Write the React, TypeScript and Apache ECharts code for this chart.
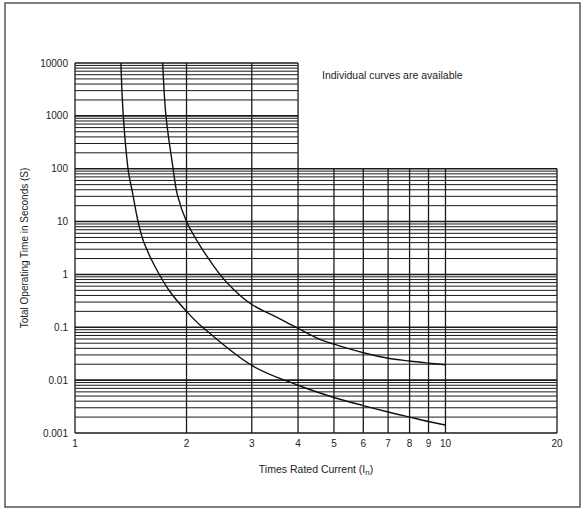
import React, { useEffect, useRef } from "react";
import * as echarts from "echarts";

// Axis ticks
const X_TICKS = [1, 2, 3, 4, 5, 6, 7, 8, 9, 10, 20];
const Y_DECADES = [0.001, 0.01, 0.1, 1, 10, 100, 1000, 10000];
const MINOR_MULT = [2, 3, 4, 5, 6, 7, 8, 9];
const X_FULL_LINES = [1, 2, 3, 4];
const X_LOWER_LINES = [5, 6, 7, 8, 9, 10, 20];
const X_MIN = 1;
const X_MAX = 20;
const X_STEP = 4; // upper box right edge
const Y_MIN = 0.001;
const Y_MAX = 10000;
const Y_STEP = 100; // lower box top edge

// Curves
const CURVE_A_X = [1.33, 1.35, 1.39, 1.43, 1.48, 1.535, 1.645, 1.805, 2.0, 2.21, 3.0, 4.0, 5.0, 6.0, 7.0, 8.0, 9.0, 10.0];
const CURVE_A_Y = [10000, 1000, 100, 35, 10, 4, 1.4, 0.47, 0.2, 0.1, 0.019, 0.008, 0.0047, 0.0033, 0.0025, 0.002, 0.00165, 0.00142];
const CURVE_B_X = [1.725, 1.76, 1.84, 1.89, 2.0, 2.17, 2.46, 2.68, 3.0, 3.5, 4.0, 4.58, 5.0, 6.0, 7.0, 8.0, 9.0, 10.0];
const CURVE_B_Y = [10000, 1000, 100, 32, 10, 3.6, 1.0, 0.52, 0.27, 0.155, 0.095, 0.059, 0.048, 0.033, 0.026, 0.023, 0.021, 0.0195];

const FONT = "'Liberation Sans', Arial, Helvetica, sans-serif";

function buildGridLines() {
  const lines: number[][] = [];
  // horizontal lines: [x1, y1, x2, y2, width]
  Y_DECADES.forEach((d, i) => {
    const right = d > Y_STEP ? X_STEP : X_MAX;
    lines.push([X_MIN, d, right, d, 1.6]);
    if (i < Y_DECADES.length - 1) {
      MINOR_MULT.forEach((m) => {
        const v = d * m;
        const r = v > Y_STEP ? X_STEP : X_MAX;
        lines.push([X_MIN, v, r, v, 1]);
      });
    }
  });
  X_FULL_LINES.forEach((x) => lines.push([x, Y_MIN, x, Y_MAX, 1.3]));
  X_LOWER_LINES.forEach((x) => lines.push([x, Y_MIN, x, Y_STEP, 1.3]));
  return lines;
}

export default function App() {
  const ref = useRef<HTMLDivElement>(null);
  useEffect(() => {
    if (!ref.current) return;
    const chart = echarts.init(ref.current, null, { renderer: "svg" });
    const fmt = (v: number) => String(Number(Number(v).toPrecision(2)));
    chart.setOption({
      animation: false,
      backgroundColor: "#fff",
      textStyle: { fontFamily: FONT },
      grid: { left: 75, right: 27, top: 63, bottom: 76 },
      xAxis: {
        type: "log",
        logBase: 10,
        min: X_MIN,
        max: X_MAX,
        name: "Times Rated Current (I{sub|n})",
        nameLocation: "middle",
        nameGap: 29,
        nameTextStyle: {
          color: "#222",
          fontSize: 10.5,
          fontFamily: FONT,
          rich: { sub: { fontSize: 8, padding: [6, 0, 0, 0], color: "#222", fontFamily: FONT } },
        },
        axisLine: { show: false },
        axisTick: { show: false },
        splitLine: { show: false },
        axisLabel: {
          customValues: X_TICKS,
          margin: 5,
          color: "#222",
          fontSize: 10,
          fontFamily: FONT,
          formatter: fmt,
        },
      },
      yAxis: {
        type: "log",
        logBase: 10,
        min: Y_MIN,
        max: Y_MAX,
        interval: 1,
        name: "Total Operating Time in Seconds (S)",
        nameLocation: "middle",
        nameGap: 41,
        nameTextStyle: { color: "#222", fontSize: 10, fontFamily: FONT },
        axisLine: { show: false },
        axisTick: { show: false },
        splitLine: { show: false },
        axisLabel: {
          margin: 7,
          color: "#222",
          fontSize: 10,
          fontFamily: FONT,
          formatter: fmt,
        },
      },
      graphic: [
        {
          type: "rect",
          shape: { x: 5, y: 3, width: 575, height: 504 },
          style: { fill: "none", stroke: "#555", lineWidth: 1.5 },
          silent: true,
        },
        {
          type: "text",
          x: 322,
          y: 75,
          style: {
            text: "Individual curves are available",
            fill: "#222",
            fontSize: 10.5,
            fontFamily: FONT,
            verticalAlign: "middle",
          },
        },
      ],
      series: [
        {
          type: "custom",
          coordinateSystem: "cartesian2d",
          silent: true,
          encode: { x: [0, 2], y: [1, 3] },
          data: buildGridLines(),
          renderItem: (params: any, api: any) => {
            const p1 = api.coord([api.value(0), api.value(1)]);
            const p2 = api.coord([api.value(2), api.value(3)]);
            return {
              type: "line",
              shape: { x1: p1[0], y1: p1[1], x2: p2[0], y2: p2[1] },
              style: { stroke: "#1a1a1a", lineWidth: api.value(4) },
            };
          },
          z: 1,
        },
        {
          type: "line",
          data: CURVE_A_X.map((x, i) => [x, CURVE_A_Y[i]]),
          smooth: 0.35,
          showSymbol: false,
          lineStyle: { color: "#111", width: 1.4 },
          z: 3,
        },
        {
          type: "line",
          data: CURVE_B_X.map((x, i) => [x, CURVE_B_Y[i]]),
          smooth: 0.35,
          showSymbol: false,
          lineStyle: { color: "#111", width: 1.4 },
          z: 3,
        },
      ],
    });
    return () => chart.dispose();
  }, []);
  return (
    <div
      ref={ref}
      style={{ position: "fixed", left: 0, top: 0, width: 584, height: 509, background: "#fff" }}
    />
  );
}
